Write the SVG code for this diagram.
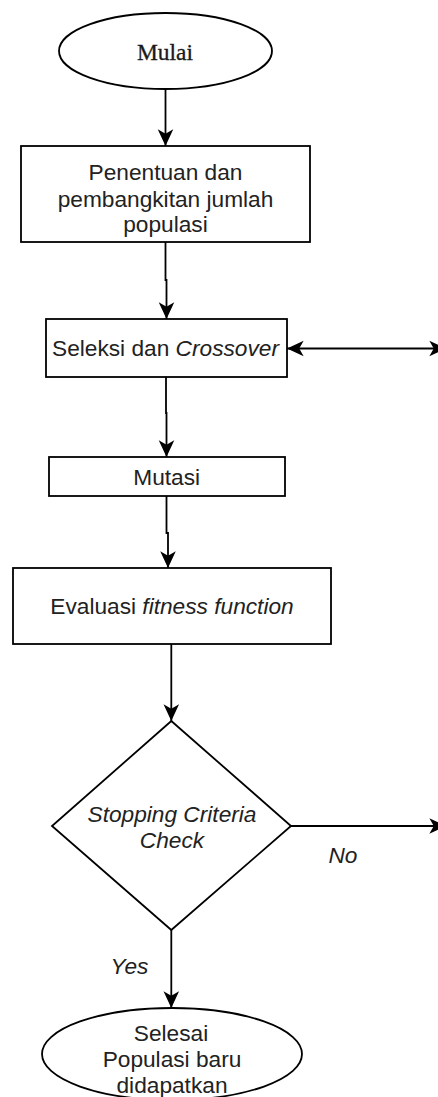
<svg xmlns="http://www.w3.org/2000/svg" width="438" height="1097" viewBox="0 0 438 1097">
  <defs>
    <marker id="arr" markerUnits="userSpaceOnUse" markerWidth="20" markerHeight="20" viewBox="-1 -9 18 18" refX="15" refY="0" orient="auto-start-reverse">
      <path d="M0,-7 L15,0 L0,7 L4,0 Z" fill="#000"/>
    </marker>
    <style>
      .shape { fill: #fff; stroke: #000; stroke-width: 1.8; }
      .edge { fill: none; stroke: #000; stroke-width: 1.8; }
      .t { font-family: "Liberation Sans", Arial, sans-serif; font-size: 22.7px; fill: #222; text-anchor: middle; }
      .i { font-style: italic; }
      .serif { font-family: "Liberation Serif", "Times New Roman", serif; font-size: 23.5px; fill: #1a1a1a; text-anchor: middle; stroke: #1a1a1a; stroke-width: 0.3; }
    </style>
  </defs>
  <rect width="438" height="1097" fill="#fff"/>

  <g id="connectors">
    <path class="edge" d="M165.5,89 V146" marker-end="url(#arr)"/>
    <path class="edge" d="M165.5,242 V280 H166.5 V319" marker-end="url(#arr)"/>
    <path class="edge" d="M166,377 V413 H166.5 V457" marker-end="url(#arr)"/>
    <path class="edge" d="M166.5,496 V533 H168 V568" marker-end="url(#arr)"/>
    <path class="edge" d="M171.3,644 V721" marker-end="url(#arr)"/>
    <path class="edge" d="M291,826 H446" marker-end="url(#arr)"/>
    <path class="edge" d="M171.3,930 V1008" marker-end="url(#arr)"/>
    <path class="edge" d="M287,348.5 H446" marker-start="url(#arr)" marker-end="url(#arr)"/>
    <text class="t i" x="343" y="863">No</text>
    <text class="t i" x="129.5" y="974">Yes</text>
  </g>

  <g id="mulai">
    <ellipse class="shape" cx="165.5" cy="51" rx="106.5" ry="38"/>
    <text class="serif" x="165" y="60">Mulai</text>
  </g>

  <g id="penentuan">
    <rect class="shape" x="21" y="146" width="289" height="96"/>
    <text class="t" x="165.5" y="180">Penentuan dan</text>
    <text class="t" x="165.5" y="206.5">pembangkitan jumlah</text>
    <text class="t" x="165.5" y="232">populasi</text>
  </g>

  <g id="seleksi">
    <rect class="shape" x="46" y="319" width="241" height="58"/>
    <text class="t" x="165.5" y="356">Seleksi dan <tspan class="i">Crossover</tspan></text>
  </g>

  <g id="mutasi">
    <rect class="shape" x="49" y="457" width="236" height="39"/>
    <text class="t" x="166.7" y="485">Mutasi</text>
  </g>

  <g id="evaluasi">
    <rect class="shape" x="13" y="568" width="318" height="76"/>
    <text class="t" x="172" y="614">Evaluasi <tspan class="i">fitness function</tspan></text>
  </g>

  <g id="stopping">
    <polygon class="shape" points="171.3,721 291,826 171.3,930 52,826"/>
    <text class="t i" x="172" y="822">Stopping Criteria</text>
    <text class="t i" x="172" y="848">Check</text>
  </g>

  <g id="selesai">
    <ellipse class="shape" cx="172" cy="1054" rx="130" ry="46"/>
    <text class="t" x="171" y="1041">Selesai</text>
    <text class="t" x="172" y="1067">Populasi baru</text>
    <text class="t" x="172" y="1093">didapatkan</text>
  </g>
</svg>
